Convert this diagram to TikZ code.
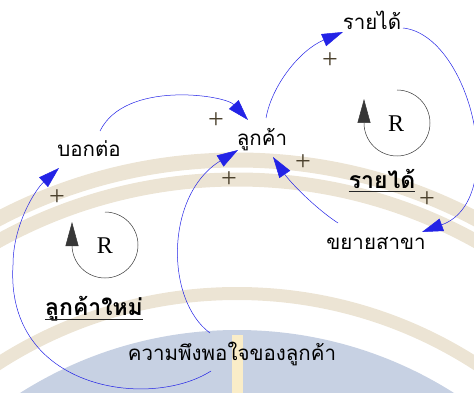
\documentclass[tikz,border=0pt]{standalone}
\usepackage{fontspec}
\setmainfont{Liberation Serif}
\newfontfamily\thaifont[Script=Thai]{Loma}
\usetikzlibrary{arrows.meta,calc}
\definecolor{cldblue}{RGB}{35,35,230}
\definecolor{loopgray}{RGB}{55,55,55}
\definecolor{plusc}{RGB}{75,65,45}
\definecolor{wmbeige}{RGB}{236,228,212}
\definecolor{wmblue}{RGB}{199,209,227}
\definecolor{wmcream}{RGB}{250,237,200}
\begin{document}
\begin{tikzpicture}[x=1pt,y=-1pt,
  var/.style={font=\thaifont\fontsize{20.5}{22}\selectfont, inner sep=0pt, anchor=base},
  loopname/.style={font=\thaifont\bfseries\fontsize{23}{25}\selectfont, inner sep=0pt, anchor=base},
  link/.style={draw=cldblue, line width=0.5pt, -{Triangle[length=21pt,width=13pt]}},
  polarity/.style={font=\fontsize{28}{28}\selectfont, text=plusc, inner sep=0pt},
  loopR/.style={font=\fontsize{24}{24}\selectfont, inner sep=0pt, anchor=base},
  loopline/.style={draw=loopgray, line width=0.5pt, -{Triangle[length=24pt,width=13pt]}},
  uline/.style={draw=black!85, line width=1.6pt}
]
\useasboundingbox (0,0) rectangle (474,393);
% watermark background
\begin{scope}
\clip (0,0) rectangle (474,393);
\fill[wmblue] (237,735) circle[radius=405];
\draw[wmbeige, line width=15pt] (237,673) circle[radius=513];
\draw[wmbeige, line width=14pt] (237,673) circle[radius=493.5];
\draw[wmbeige, line width=13pt] (237,735) circle[radius=441.5];
\fill[wmcream] (232,335) rectangle (243,393);
\end{scope}

% variables
\node[var] (rayday) at (372,30) {รายได้};
\node[var] (lukka) at (262,146) {ลูกค้า};
\node[var] (bokto) at (89,157) {บอกต่อ};
\node[var] (khayai) at (376,249) {ขยายสาขา};
\node[var] (pungpo) at (232,360) {ความพึงพอใจของลูกค้า};

% loop names
\node[loopname] (lnew) at (94,315) {ลูกค้าใหม่};
\node[loopname] (lrev) at (382,188) {รายได้};
\draw[uline] ($(lnew.base west)+(0,4.5)$) -- ($(lnew.base east)+(0,4.5)$);
\draw[uline] ($(lrev.base west)+(0,3.5)$) -- ($(lrev.base east)+(0,3.5)$);

% loop symbols
\node[loopR] (rR) at (396,132) {R};
\node[loopR] (rL) at (105,253) {R};
\coordinate (rRs) at (397,90);
\coordinate (rLs) at (105,212);
\draw[loopline] (rRs) arc[start angle=-90, end angle=180, radius=33] -- ++(0,-24);
\draw[loopline] (rLs) arc[start angle=-90, end angle=180, radius=33] -- ++(0,-23);

% connector end points
\coordinate (bokto-o) at (100,131);
\coordinate (lukka-i1) at (248,120);
\coordinate (lukka-o) at (266,118);
\coordinate (rayday-i) at (343,32);
\coordinate (rayday-o) at (403,28);
\coordinate (khayai-i) at (422,232);
\coordinate (khayai-o) at (338,223);
\coordinate (lukka-i2) at (273,157);
\coordinate (pungpo-o1) at (210,333);
\coordinate (lukka-i3) at (238,150);
\coordinate (pungpo-o2) at (211,371);
\coordinate (bokto-i) at (59,168);

% causal links
\draw[link] (bokto-o) .. controls (125,80) and (225,95) .. (lukka-i1);
\draw[link] (lukka-o) .. controls (272,85) and (300,50) .. (rayday-i);
\draw[link] (rayday-o) .. controls (470,35) and (510,200) .. (khayai-i);
\draw[link] (khayai-o) .. controls (315,208) and (290,182) .. (lukka-i2);
\draw[link] (pungpo-o1) .. controls (165,300) and (165,195) .. (lukka-i3);
\draw[link] (pungpo-o2) .. controls (150,410) and (5,390) .. (13,265)
                        .. controls (13,225) and (35,190) .. (bokto-i);

% polarities
\node[polarity] (p1) at (216,121) {+};
\node[polarity] (p2) at (330,61) {+};
\node[polarity] (p3) at (427,200) {+};
\node[polarity] (p4) at (303,163) {+};
\node[polarity] (p5) at (229,180) {+};
\node[polarity] (p6) at (57,198) {+};
\end{tikzpicture}
\end{document}
